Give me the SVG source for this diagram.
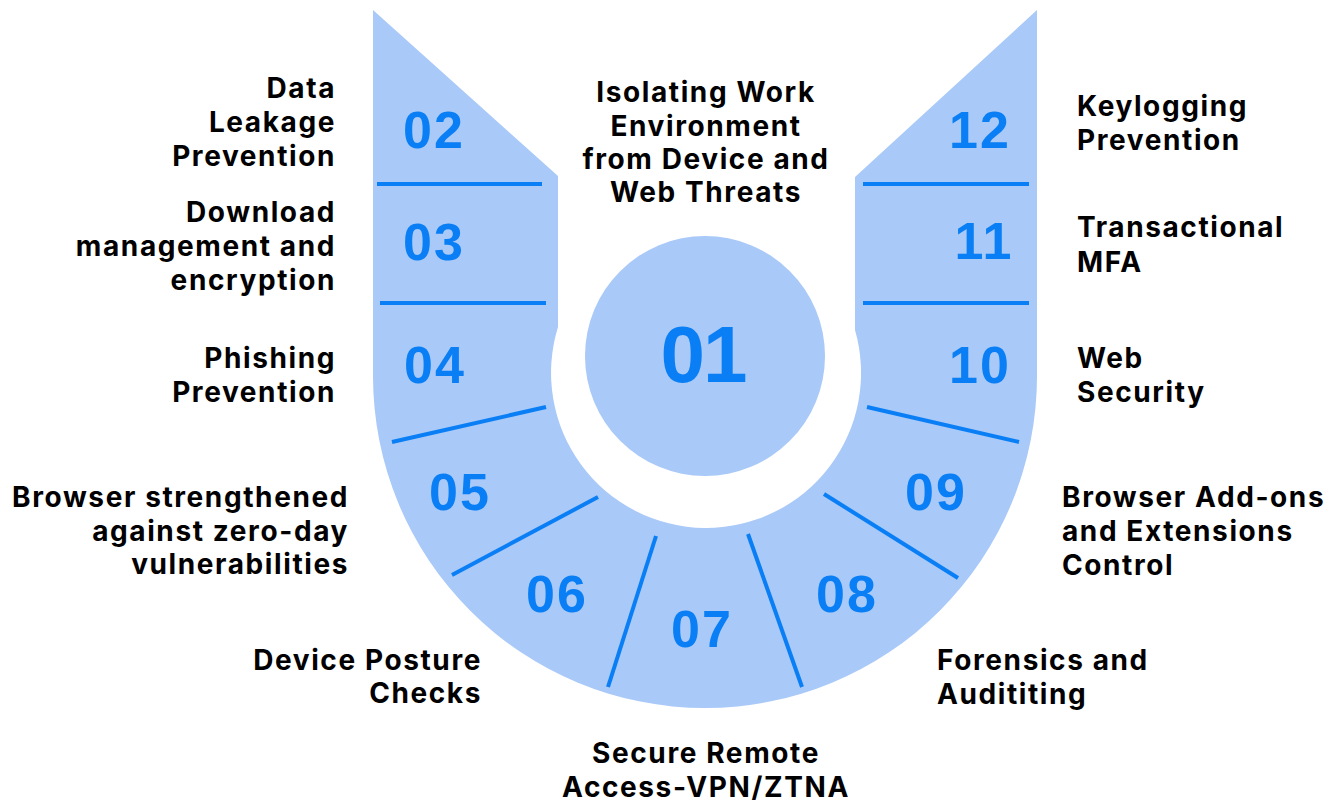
<svg xmlns="http://www.w3.org/2000/svg" width="1334" height="803" viewBox="0 0 1334 803">
<style>
.shape{fill:#a9c9f8}
.div{stroke:#0a7ff5;stroke-width:4;fill:none}
.num{font-family:"Liberation Sans",Arial,sans-serif;font-weight:700;font-size:52px;fill:#0a7ff5;text-anchor:middle;letter-spacing:2px}
.big{font-size:80px;letter-spacing:-2px}
.lbl{font-family:Inter,"Liberation Sans",sans-serif;font-weight:700;font-size:28px;fill:#000;letter-spacing:1.6px}
.end{text-anchor:end}
.mid{text-anchor:middle}
</style>
<rect width="1334" height="803" fill="#ffffff"/>
<g id="ushape">
<path class="shape" d="M373,10 L558,176 L558,327 A155,155 0 1 0 855,330 L855,177 L1037,10 L1037,376 A332,332 0 0 1 373,376 Z"/>
</g>
<g id="node01">
<circle class="shape" cx="705" cy="356" r="120"/>
<text class="num big" x="703" y="382">01</text>
<text class="lbl mid" x="706" y="102">Isolating Work</text>
<text class="lbl mid" x="706" y="136">Environment</text>
<text class="lbl mid" x="706" y="169">from Device and</text>
<text class="lbl mid" x="706" y="202">Web Threats</text>
</g>
<g id="connectors">
<line class="div" x1="377" y1="184" x2="542" y2="184"/>
<line class="div" x1="380" y1="303" x2="546" y2="303"/>
<line class="div" x1="392" y1="442" x2="546" y2="407"/>
<line class="div" x1="452" y1="575" x2="598" y2="497"/>
<line class="div" x1="608" y1="687" x2="656" y2="536"/>
<line class="div" x1="863" y1="184" x2="1029" y2="184"/>
<line class="div" x1="863" y1="303" x2="1029" y2="303"/>
<line class="div" x1="867" y1="407" x2="1019" y2="442"/>
<line class="div" x1="824" y1="494" x2="958" y2="578"/>
<line class="div" x1="748" y1="534" x2="802" y2="687"/>
</g>
<g id="node02">
<text class="num" x="434" y="148">02</text>
<text class="lbl end" x="336" y="98">Data</text>
<text class="lbl end" x="336" y="132">Leakage</text>
<text class="lbl end" x="336" y="166">Prevention</text>
</g>
<g id="node03">
<text class="num" x="434" y="260">03</text>
<text class="lbl end" x="336" y="222">Download</text>
<text class="lbl end" x="336" y="256">management and</text>
<text class="lbl end" x="336" y="290">encryption</text>
</g>
<g id="node04">
<text class="num" x="435" y="383">04</text>
<text class="lbl end" x="336" y="368">Phishing</text>
<text class="lbl end" x="336" y="402">Prevention</text>
</g>
<g id="node05">
<text class="num" x="460" y="510">05</text>
<text class="lbl end" x="349" y="507">Browser strengthened</text>
<text class="lbl end" x="349" y="541">against zero-day</text>
<text class="lbl end" x="349" y="574">vulnerabilities</text>
</g>
<g id="node06">
<text class="num" x="557" y="612">06</text>
<text class="lbl end" x="482" y="670">Device Posture</text>
<text class="lbl end" x="482" y="703">Checks</text>
</g>
<g id="node07">
<text class="num" x="702" y="647">07</text>
<text class="lbl mid" x="706" y="763">Secure Remote</text>
<text class="lbl mid" x="706" y="797">Access-VPN/ZTNA</text>
</g>
<g id="node08">
<text class="num" x="847" y="612">08</text>
<text class="lbl" x="937" y="670">Forensics and</text>
<text class="lbl" x="937" y="704">Audititing</text>
</g>
<g id="node09">
<text class="num" x="936" y="510">09</text>
<text class="lbl" x="1062" y="507">Browser Add-ons</text>
<text class="lbl" x="1062" y="541">and Extensions</text>
<text class="lbl" x="1062" y="575">Control</text>
</g>
<g id="node10">
<text class="num" x="980" y="383">10</text>
<text class="lbl" x="1077" y="368">Web</text>
<text class="lbl" x="1077" y="402">Security</text>
</g>
<g id="node11">
<text class="num" x="984" y="259">11</text>
<text class="lbl" x="1077" y="237">Transactional</text>
<text class="lbl" x="1077" y="272">MFA</text>
</g>
<g id="node12">
<text class="num" x="980" y="148">12</text>
<text class="lbl" x="1077" y="116">Keylogging</text>
<text class="lbl" x="1077" y="150">Prevention</text>
</g>
</svg>
